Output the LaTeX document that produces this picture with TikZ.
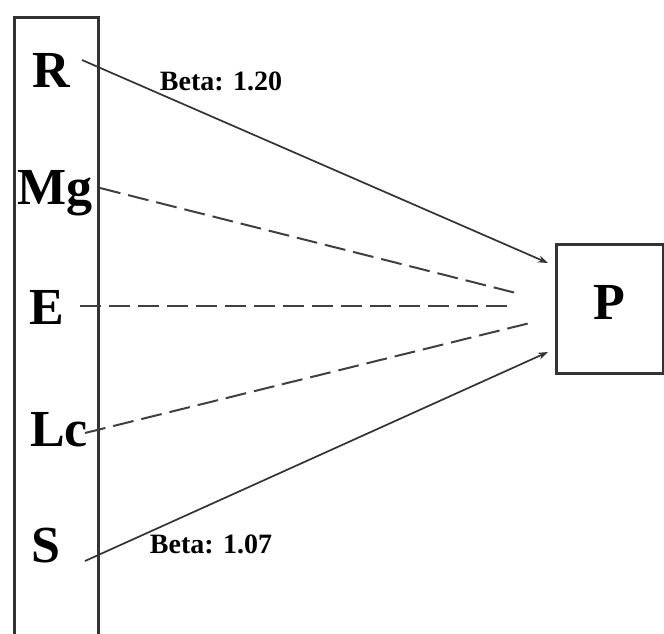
\documentclass[tikz,border=0pt]{standalone}
\usepackage{fontspec}
\setmainfont{Liberation Serif}
\usetikzlibrary{arrows.meta}
\begin{document}
\begin{tikzpicture}[x=1pt,y=-1pt,
  frame/.style={draw=black!80,line width=3pt},
  big/.style={font=\fontsize{52}{52}\selectfont\bfseries,inner sep=0pt},
  beta/.style={font=\fontsize{28}{28}\selectfont\bfseries,inner sep=0pt},
  solidarrow/.style={draw=black!80,line width=1.7pt,-{Stealth[length=10pt,width=7pt]}},
  dashline/.style={draw=black!75,line width=2pt,dash pattern=on 21pt off 8pt}]
\useasboundingbox (0,0) rectangle (664,633);
\draw[frame] (14,650) -- (14,17) -- (98,17) -- (98,650);
\node[frame,minimum width=107pt,minimum height=129pt,inner sep=0pt] (Pbox) at (609.5,308.5) {};
\node[big] (P) at (609,302) {P};
\node[big] (R) at (51,70) {R};
\node[big] (Mg) at (55,193) {Mg};
\node[big] (E) at (47,307) {E};
\node[big] (Lc) at (59,430) {Lc};
\node[big] (S) at (46,546) {S};
\node[beta] (b1) at (221,81) {Beta: 1.20};
\node[beta] (b2) at (211,544) {Beta: 1.07};
\coordinate (rs) at (82,60);
\coordinate (mgs) at (100,188);
\coordinate (es) at (80,306);
\coordinate (lcs) at (85,433);
\coordinate (ss) at (85,561);
\coordinate (pr) at (548,263);
\coordinate (pmg) at (520,294);
\coordinate (pe) at (514,306);
\coordinate (plc) at (530,323);
\coordinate (ps) at (548,352);
\draw[solidarrow] (rs) -- (pr);
\draw[solidarrow] (ss) -- (ps);
\draw[dashline] (mgs) -- (pmg);
\draw[dashline] (es) -- (pe);
\draw[dashline] (lcs) -- (plc);
\end{tikzpicture}
\end{document}
